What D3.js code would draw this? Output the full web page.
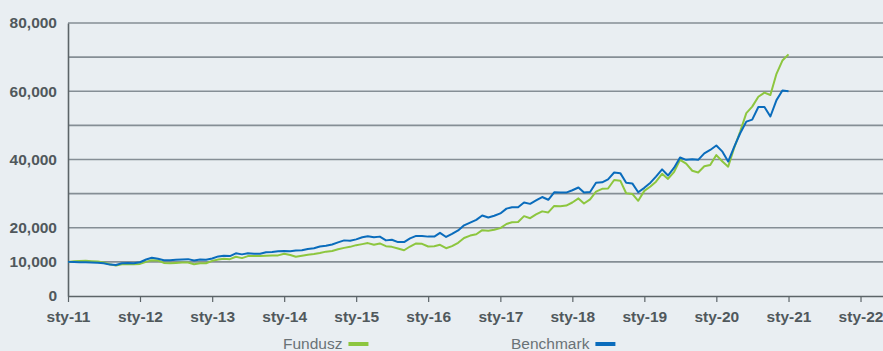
<!DOCTYPE html>
<html>
<head>
<meta charset="utf-8">
<script src="https://cdn.jsdelivr.net/npm/d3@7"></script>
<style>
  html, body { margin: 0; padding: 0; background: #e9eef2; }
  svg { display: block; font-family: "Liberation Sans", Arial, sans-serif; }
</style>
</head>
<body>
<svg id="chart" width="883" height="351"></svg>
<script>
// Monthly values, January 2011 through January 2021
const startYear = 2011;
const fundusz = [
  10000, 10150, 10250, 10300, 10200, 10100, 9800, 9300, 8900, 9300, 9400, 9300,
  9400, 10000, 10500, 10400, 9700, 9600, 9700, 9800, 9800, 9300, 9600, 9600,
  10300, 10700, 10900, 10800, 11500, 11100, 11700, 11700, 11700, 11800, 11900, 11900,
  12400, 12000, 11500, 11800, 12100, 12300, 12600, 13000, 13200, 13700, 14100, 14400,
  14900, 15200, 15500, 15000, 15400, 14600, 14400, 13900, 13400, 14500, 15400, 15300,
  14500, 14600, 15000, 14000, 14600, 15600, 17000, 17700, 18100, 19300, 19100, 19400,
  19900, 21100, 21600, 21700, 23400, 22800, 23900, 24800, 24500, 26400, 26300, 26500,
  27400, 28600, 27100, 28300, 30600, 31400, 31500, 34000, 33800, 30100, 29900, 27900,
  30800, 32100, 33500, 35800, 34300, 36400, 39900, 38800, 36700, 36200, 38000, 38400,
  41300, 39400, 37900, 43500, 48200, 53600, 55500, 58400, 59600, 58900, 65100, 69000,
  70800
];
const benchmark = [
  10000, 9950, 9900, 9900, 9850, 9750, 9600, 9200, 9100, 9600, 9650, 9600,
  9900, 10700, 11200, 10900, 10500, 10500, 10600, 10700, 10800, 10400, 10700, 10600,
  11000, 11600, 11800, 11700, 12500, 12200, 12500, 12400, 12400, 12800, 12900, 13100,
  13200, 13100, 13300, 13400, 13800, 14000, 14500, 14700, 15100, 15700, 16300, 16200,
  16600, 17200, 17500, 17200, 17400, 16300, 16500, 15800, 15800, 16900, 17600, 17600,
  17400, 17400, 18500, 17300, 18200, 19200, 20700, 21500, 22300, 23600, 23000, 23500,
  24200, 25600, 26000, 26000, 27400, 27000, 28000, 29000, 28200, 30400, 30300, 30300,
  31000, 31800, 30300, 30500, 33200, 33300, 34200, 36200, 36000, 33200, 33000, 30400,
  31700, 33200, 35000, 37100, 35300, 37600, 40600, 39900, 40100, 39900, 41800, 42800,
  44100, 42300, 39400, 43800, 47700, 51100, 51700, 55400, 55400, 52600, 57400, 60200,
  60000
];
const yTicks = [0, 10000, 20000, 30000, 40000, 50000, 60000, 70000, 80000];
const yLabelled = [0, 10000, 20000, 40000, 60000, 80000];
const xTickYears = [2011, 2012, 2013, 2014, 2015, 2016, 2017, 2018, 2019, 2020, 2021, 2022];
const seriesNames = ["Fundusz", "Benchmark"];
const colors = { Fundusz: "#8dc63f", Benchmark: "#0a6cbc" };

const monthDate = i => new Date(Date.UTC(startYear, i, 1));

const svg = d3.select("#chart");
const plotLeft = 68, plotRight = 883, plotTop = 23, plotBottom = 296;

const x = d3.scaleUtc()
  .domain([monthDate(0), new Date(Date.UTC(2022, 3, 25))])
  .range([plotLeft, plotRight]);
const y = d3.scaleLinear().domain([0, 80000]).range([plotBottom, plotTop]);

// horizontal grid
svg.append("g")
  .selectAll("line")
  .data(yTicks.filter(d => d > 0))
  .join("line")
  .attr("x1", plotLeft).attr("x2", plotRight)
  .attr("y1", d => y(d)).attr("y2", d => y(d))
  .attr("stroke", "#858e95")
  .attr("stroke-width", 1.6);

// y axis
const fmt = d3.format(",");
const yAxis = d3.axisLeft(y)
  .tickValues(yTicks)
  .tickSize(0)
  .tickPadding(11)
  .tickFormat(d => yLabelled.includes(d) ? fmt(d) : "");
const gy = svg.append("g").attr("transform", `translate(${plotLeft},0)`).call(yAxis);
gy.select(".domain").attr("stroke", "#5c6468").attr("stroke-width", 1.6);
gy.selectAll("text")
  .attr("fill", "#50585c")
  .style("font-size", "15.5px")
  .style("font-weight", "bold");

// x axis
const xAxis = d3.axisBottom(x)
  .tickValues(xTickYears.map(yr => new Date(Date.UTC(yr, 0, 1))))
  .tickSize(6)
  .tickSizeOuter(0)
  .tickPadding(9)
  .tickFormat(d => "sty-" + String(d.getUTCFullYear()).slice(2));
const gx = svg.append("g").attr("transform", `translate(0,${plotBottom})`).call(xAxis);
gx.select(".domain").attr("stroke", "#5c6468").attr("stroke-width", 1.6);
gx.selectAll(".tick line").attr("stroke", "#5c6468").attr("stroke-width", 1.2);
gx.selectAll("text")
  .attr("fill", "#50585c")
  .style("font-size", "15.5px")
  .style("font-weight", "bold");

// series lines
const line = d3.line()
  .x((d, i) => x(monthDate(i)))
  .y(d => y(d));

[["Fundusz", fundusz], ["Benchmark", benchmark]].forEach(([name, vals]) => {
  svg.append("path")
    .datum(vals)
    .attr("fill", "none")
    .attr("stroke", colors[name])
    .attr("stroke-width", 2)
    .attr("stroke-linejoin", "round")
    .attr("d", line);
});

// legend
const legendX = { Fundusz: 283, Benchmark: 511 };
const legend = svg.append("g");
seriesNames.forEach(name => {
  const t = legend.append("text")
    .attr("x", legendX[name]).attr("y", 349)
    .attr("fill", "#6a7276")
    .style("font-size", "15.5px")
    .text(name);
  const w = t.node().getComputedTextLength();
  legend.append("rect")
    .attr("x", legendX[name] + w + 6).attr("y", 342)
    .attr("width", 20).attr("height", 4)
    .attr("fill", colors[name]);
});
</script>
</body>
</html>
